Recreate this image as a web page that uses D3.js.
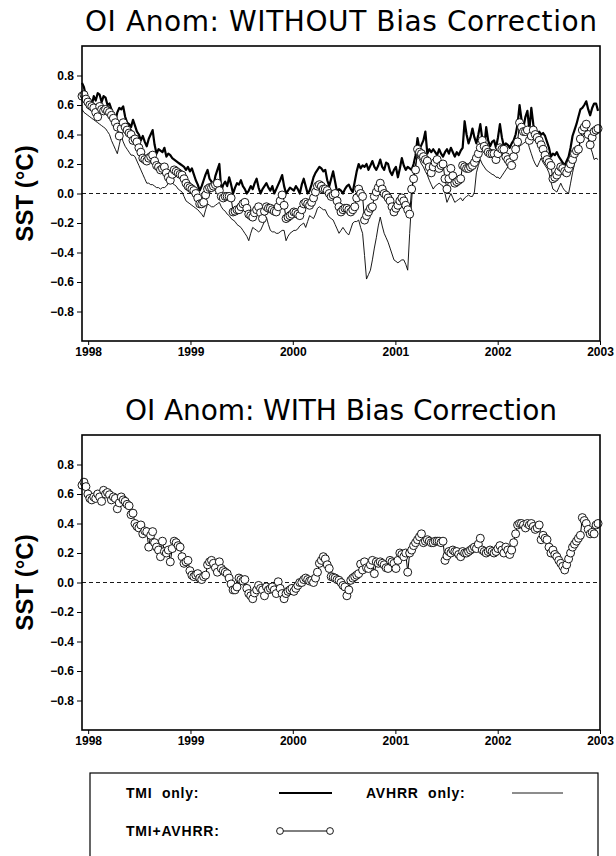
<!DOCTYPE html>
<html>
<head>
<meta charset="utf-8">
<script src="https://d3js.org/d3.v7.min.js"></script>
<style>
  * { margin:0; padding:0; }
  body { background:#fff; width:616px; height:856px; overflow:hidden; }
  svg { display:block; }
  .axis text { font-family:"Liberation Sans",Arial,sans-serif; font-weight:bold; font-size:12px; fill:#000; }
  .axis line { stroke:#000; stroke-width:1; }
  .title { font-family:"DejaVu Sans",sans-serif; font-size:28px; fill:#000; }
  .ylab { font-family:"Liberation Sans",Arial,sans-serif; font-weight:bold; font-size:24px; fill:#000; }
  .leg { font-family:"Liberation Sans",Arial,sans-serif; font-weight:bold; font-size:14px; letter-spacing:0.8px; fill:#000; white-space:pre; }
</style>
</head>
<body>
<svg id="chart" width="616" height="856"></svg>
<script>
// ── Data: weekly SST anomalies (°C), first week 10 Dec 1997 ─────────────────
var START_DATE = Date.UTC(1997, 11, 10);
var END_DATE   = Date.UTC(2003, 0, 1);

var yearTicks = [1998, 1999, 2000, 2001, 2002, 2003];
var sstTicks  = [-0.8, -0.6, -0.4, -0.2, 0.0, 0.2, 0.4, 0.6, 0.8];

var panelTitles = ["OI Anom: WITHOUT Bias Correction", "OI Anom: WITH Bias Correction"];
var legendLabels = ["TMI  only:", "AVHRR  only:", "TMI+AVHRR:"];

var tmiOnly = [
  0.75, 0.72, 0.66, 0.62, 0.64, 0.60, 0.66, 0.63, 0.68, 0.67,
  0.62, 0.66, 0.65, 0.60, 0.61, 0.57, 0.52, 0.49, 0.55, 0.58,
  0.57, 0.59, 0.52, 0.48, 0.47, 0.45, 0.50, 0.46, 0.42, 0.40,
  0.36, 0.39, 0.35, 0.32, 0.37, 0.40, 0.43, 0.33, 0.27, 0.30,
  0.29, 0.28, 0.31, 0.25, 0.27, 0.26, 0.24, 0.23, 0.22, 0.21,
  0.20, 0.19, 0.18, 0.16, 0.18, 0.15, 0.17, 0.13, 0.09, 0.06,
  0.02, 0.05, 0.09, 0.13, 0.16, 0.10, 0.08, 0.05, 0.12, 0.16,
  0.20, 0.02, 0.06, 0.08, 0.05, 0.11, 0.06, 0.00, 0.04, 0.07,
  0.06, 0.09, 0.05, 0.03, 0.00, 0.02, 0.05, 0.03, 0.07, 0.10,
  0.04, 0.00, 0.03, 0.05, 0.07, 0.04, 0.02, 0.05, 0.00, 0.03,
  0.06, 0.09, 0.125, 0.05, 0.00, 0.02, 0.04, 0.03, 0.02, 0.05,
  0.03, 0.00, 0.06, 0.10, 0.05, 0.00, 0.02, 0.06, 0.11, 0.14,
  0.16, 0.18, 0.17, 0.15, 0.16, 0.09, 0.05, 0.10, 0.15, 0.08,
  0.01, 0.03, 0.02, 0.00, 0.03, 0.05, 0.06, 0.03, 0.01, 0.08,
  0.15, 0.20, 0.17, 0.19, 0.18, 0.20, 0.16, 0.19, 0.22, 0.18,
  0.16, 0.19, 0.23, 0.18, 0.16, 0.21, 0.20, 0.15, 0.125, 0.16,
  0.18, 0.11, 0.17, 0.24, 0.19, 0.16, 0.18, 0.17, 0.16, 0.20,
  0.26, 0.375, 0.30, 0.33, 0.36, 0.42, 0.27, 0.30, 0.28, 0.30,
  0.28, 0.26, 0.30, 0.27, 0.25, 0.28, 0.30, 0.27, 0.31, 0.28,
  0.25, 0.28, 0.26, 0.29, 0.31, 0.49, 0.40, 0.34, 0.38, 0.44,
  0.38, 0.34, 0.40, 0.47, 0.37, 0.31, 0.45, 0.36, 0.32, 0.35,
  0.36, 0.31, 0.38, 0.47, 0.38, 0.32, 0.34, 0.33, 0.31, 0.34,
  0.36, 0.40, 0.47, 0.60, 0.50, 0.45, 0.52, 0.56, 0.43, 0.58,
  0.47, 0.40, 0.41, 0.42, 0.40, 0.41, 0.39, 0.35, 0.31, 0.25,
  0.27, 0.26, 0.28, 0.25, 0.23, 0.21, 0.19, 0.22, 0.25, 0.31,
  0.39, 0.43, 0.47, 0.52, 0.57, 0.58, 0.60, 0.625, 0.57, 0.53,
  0.58, 0.61, 0.61, 0.56
];

var avhrrOnly = [
  0.57, 0.55, 0.54, 0.53, 0.52, 0.51, 0.50, 0.49, 0.48, 0.47,
  0.46, 0.45, 0.44, 0.42, 0.40, 0.36, 0.33, 0.30, 0.27, 0.33,
  0.39, 0.35, 0.32, 0.30, 0.28, 0.26, 0.26, 0.25, 0.22, 0.19,
  0.16, 0.13, 0.10, 0.07, 0.07, 0.06, 0.06, 0.05, 0.04, 0.04,
  0.03, 0.04, 0.04, 0.05, 0.07, 0.09, 0.07, 0.06, 0.05, 0.03,
  0.02, 0.01, -0.02, -0.05, -0.06, -0.07, -0.08, -0.09, -0.10, -0.11,
  -0.125, -0.14, -0.16, -0.11, -0.07, -0.08, -0.09, -0.09, -0.08, -0.07,
  -0.06, -0.09, -0.11, -0.12, -0.14, -0.15, -0.17, -0.18, -0.19, -0.21,
  -0.22, -0.23, -0.25, -0.27, -0.29, -0.32, -0.27, -0.23, -0.24, -0.25,
  -0.26, -0.25, -0.22, -0.19, -0.16, -0.21, -0.25, -0.26, -0.26, -0.27,
  -0.27, -0.26, -0.25, -0.25, -0.32, -0.29, -0.27, -0.26, -0.25, -0.25,
  -0.24, -0.22, -0.21, -0.20, -0.23, -0.19, -0.15, -0.16, -0.17, -0.14,
  -0.10, -0.09, -0.10, -0.11, -0.11, -0.14, -0.16, -0.17, -0.18, -0.21,
  -0.24, -0.27, -0.25, -0.23, -0.25, -0.27, -0.28, -0.24, -0.20, -0.19,
  -0.19, -0.18, -0.23, -0.27, -0.42, -0.58, -0.55, -0.52, -0.45, -0.37,
  -0.30, -0.22, -0.16, -0.22, -0.27, -0.30, -0.33, -0.37, -0.41, -0.45,
  -0.46, -0.47, -0.46, -0.45, -0.45, -0.48, -0.52, -0.27, -0.05, 0.14,
  0.20, 0.25, 0.23, 0.20, 0.18, 0.15, 0.125, 0.09, 0.06, 0.03,
  0.05, 0.06, 0.07, 0.06, 0.05, 0.00, -0.06, -0.03, 0.00, -0.03,
  -0.06, -0.05, -0.04, -0.03, -0.05, -0.03, -0.02, -0.01, -0.02, -0.02,
  0.01, 0.14, 0.19, 0.23, 0.20, 0.18, 0.16, 0.15, 0.14, 0.13,
  0.125, 0.11, 0.11, 0.10, 0.12, 0.14, 0.16, 0.18, 0.19, 0.21,
  0.23, 0.26, 0.29, 0.32, 0.33, 0.34, 0.35, 0.36, 0.31, 0.27,
  0.23, 0.20, 0.18, 0.21, 0.24, 0.21, 0.19, 0.17, 0.14, 0.08,
  0.03, 0.02, 0.01, 0.04, 0.07, 0.04, 0.02, 0.01, 0.00, 0.07,
  0.14, 0.20, 0.25, 0.30, 0.35, 0.39, 0.41, 0.42, 0.37, 0.32,
  0.28, 0.23, 0.24, 0.23
];

var tmiAvhrr = [
  0.66, 0.67, 0.64, 0.62, 0.60, 0.59, 0.58, 0.55, 0.52, 0.59,
  0.57, 0.56, 0.57, 0.56, 0.55, 0.53, 0.51, 0.48, 0.45, 0.39,
  0.44, 0.48, 0.45, 0.43, 0.41, 0.40, 0.36, 0.37, 0.35, 0.31,
  0.28, 0.24, 0.23, 0.22, 0.24, 0.25, 0.26, 0.22, 0.19, 0.18,
  0.16, 0.17, 0.18, 0.14, 0.11, 0.09, 0.13, 0.16, 0.15, 0.14,
  0.13, 0.125, 0.10, 0.07, 0.05, 0.04, 0.03, 0.02, 0.00, -0.03,
  -0.07, -0.07, -0.06, -0.01, 0.03, 0.04, 0.04, 0.05, 0.06, 0.07,
  0.02, -0.02, -0.03, -0.02, -0.02, -0.02, -0.03, -0.125, -0.12, -0.11,
  -0.11, -0.09, -0.07, -0.06, -0.10, -0.14, -0.15, -0.16, -0.13, -0.11,
  -0.09, -0.13, -0.17, -0.12, -0.09, -0.10, -0.10, -0.11, -0.12, -0.125,
  -0.09, -0.05, -0.01, -0.08, -0.17, -0.16, -0.15, -0.14, -0.125, -0.13,
  -0.14, -0.15, -0.11, -0.07, -0.06, -0.07, -0.08, -0.06, -0.03, 0.01,
  0.05, 0.06, 0.05, 0.03, 0.03, 0.02, 0.00, -0.02, -0.01, 0.00,
  -0.05, -0.09, -0.125, -0.11, -0.10, -0.10, -0.11, -0.125, -0.11, -0.09,
  -0.03, 0.03, 0.00, -0.02, -0.18, -0.15, -0.125, -0.10, -0.09, -0.02,
  0.01, 0.04, 0.07, 0.03, 0.00, -0.01, -0.03, -0.05, -0.09, -0.125,
  -0.10, -0.08, -0.05, -0.03, -0.05, -0.08, -0.11, -0.14, 0.03, 0.10,
  0.16, 0.30, 0.28, 0.27, 0.25, 0.23, 0.22, 0.18, 0.14, 0.18,
  0.21, 0.23, 0.17, 0.19, 0.20, 0.10, 0.03, 0.10, 0.17, 0.12,
  0.07, 0.08, 0.09, 0.10, 0.19, 0.18, 0.17, 0.17, 0.18, 0.19,
  0.21, 0.24, 0.27, 0.31, 0.36, 0.32, 0.30, 0.28, 0.27, 0.27,
  0.27, 0.23, 0.27, 0.31, 0.30, 0.30, 0.25, 0.23, 0.21, 0.19,
  0.25, 0.30, 0.35, 0.48, 0.45, 0.42, 0.42, 0.43, 0.36, 0.39,
  0.43, 0.40, 0.38, 0.36, 0.33, 0.30, 0.26, 0.23, 0.21, 0.19,
  0.10, 0.11, 0.125, 0.15, 0.18, 0.17, 0.15, 0.14, 0.17, 0.20,
  0.23, 0.27, 0.29, 0.30, 0.37, 0.43, 0.45, 0.47, 0.40, 0.33,
  0.38, 0.42, 0.43, 0.44
];

var tmiAvhrrCorrected = [
  0.66, 0.68, 0.65, 0.60, 0.57, 0.56, 0.58, 0.57, 0.60, 0.58,
  0.55, 0.625, 0.60, 0.61, 0.595, 0.56, 0.58, 0.57, 0.50, 0.54,
  0.58, 0.56, 0.55, 0.53, 0.52, 0.46, 0.47, 0.40, 0.38, 0.37,
  0.39, 0.33, 0.35, 0.345, 0.24, 0.32, 0.345, 0.27, 0.24, 0.22,
  0.175, 0.28, 0.21, 0.20, 0.22, 0.14, 0.23, 0.28, 0.27, 0.25,
  0.24, 0.175, 0.13, 0.14, 0.15, 0.08, 0.05, 0.04, 0.05, 0.06,
  0.03, 0.02, 0.04, 0.05, 0.12, 0.14, 0.15, 0.13, 0.10, 0.07,
  0.14, 0.095, 0.08, 0.07, 0.06, 0.03, -0.01, -0.05, -0.05, -0.03,
  0.03, 0.02, 0.01, 0.02, -0.04, -0.075, -0.09, -0.11, -0.07, -0.05,
  -0.02, -0.04, -0.05, -0.09, -0.03, -0.05, -0.04, -0.03, -0.05, -0.075,
  0.005, -0.04, -0.075, -0.11, -0.075, -0.06, -0.05, -0.04, -0.06, -0.04,
  -0.02, 0.00, 0.00, 0.02, 0.03, 0.02, 0.01, 0.015, 0.00, 0.03,
  0.07, 0.13, 0.15, 0.175, 0.16, 0.12, 0.095, 0.04, 0.035, 0.03,
  0.02, 0.015, 0.00, -0.02, -0.03, -0.09, -0.05, 0.015, 0.03, 0.04,
  0.05, 0.06, 0.125, 0.085, 0.14, 0.10, 0.095, 0.12, 0.15, 0.06,
  0.14, 0.13, 0.14, 0.13, 0.12, 0.10, 0.095, 0.15, 0.14, 0.13,
  0.095, 0.15, 0.20, 0.19, 0.175, 0.20, 0.07, 0.20, 0.22, 0.25,
  0.27, 0.29, 0.31, 0.33, 0.27, 0.28, 0.29, 0.28, 0.27, 0.27,
  0.28, 0.28, 0.28, 0.27, 0.28, 0.15, 0.18, 0.21, 0.20, 0.22,
  0.21, 0.21, 0.19, 0.175, 0.21, 0.20, 0.20, 0.21, 0.22, 0.23,
  0.24, 0.23, 0.26, 0.30, 0.22, 0.21, 0.20, 0.21, 0.22, 0.21,
  0.20, 0.21, 0.23, 0.25, 0.22, 0.20, 0.24, 0.22, 0.19, 0.22,
  0.27, 0.33, 0.39, 0.40, 0.40, 0.39, 0.37, 0.40, 0.39, 0.40,
  0.38, 0.36, 0.37, 0.39, 0.29, 0.32, 0.30, 0.29, 0.24, 0.20,
  0.22, 0.19, 0.175, 0.15, 0.13, 0.11, 0.085, 0.12, 0.16, 0.20,
  0.24, 0.26, 0.28, 0.30, 0.32, 0.44, 0.42, 0.40, 0.36, 0.33,
  0.34, 0.33, 0.39, 0.40
];

// ── Layout ───────────────────────────────────────────────────────────────────
var LEFT = 82, RIGHT = 600;
var panels = [
  { top: 46,  bottom: 341, titleY: 31,  series: "raw" },
  { top: 435, bottom: 730, titleY: 420, series: "corrected" }
];
var titleLengths = [512, 432];
var WEEK_MS = 7 * 864e5;
var R = 4;

var svg = d3.select("#chart");

var x = d3.scaleUtc()
  .domain([new Date(START_DATE), new Date(END_DATE)])
  .range([LEFT, RIGHT]);

function weekDate(i) { return new Date(START_DATE + i * WEEK_MS); }

// ── One panel ────────────────────────────────────────────────────────────────
function drawPanel(p, idx) {
  var y = d3.scaleLinear().domain([-1, 1]).range([p.bottom, p.top]);
  var g = svg.append("g");

  var line = d3.line()
    .x(function(d, i) { return x(weekDate(i)); })
    .y(function(d) { return y(d); });

  // title
  g.append("text").attr("class", "title")
    .attr("x", (LEFT + RIGHT) / 2).attr("y", p.titleY)
    .attr("text-anchor", "middle")
    .attr("textLength", titleLengths[idx]).attr("lengthAdjust", "spacing")
    .text(panelTitles[idx]);

  // y label
  var yc = (p.top + p.bottom) / 2;
  g.append("text").attr("class", "ylab")
    .attr("transform", "translate(33," + yc + ") rotate(-90)")
    .attr("text-anchor", "middle")
    .text("SST (\u00b0C)");

  // zero line
  g.append("line")
    .attr("x1", LEFT).attr("x2", RIGHT)
    .attr("y1", y(0)).attr("y2", y(0))
    .attr("stroke", "#000").attr("stroke-width", 0.9)
    .attr("stroke-dasharray", "4,3");

  if (p.series === "raw") {
    g.append("path").datum(avhrrOnly)
      .attr("d", line).attr("fill", "none")
      .attr("stroke", "#000").attr("stroke-width", 0.9).attr("stroke-linejoin", "round");
    g.append("path").datum(tmiOnly)
      .attr("d", line).attr("fill", "none")
      .attr("stroke", "#000").attr("stroke-width", 2.2).attr("stroke-linejoin", "round");
  }

  var blend = p.series === "raw" ? tmiAvhrr : tmiAvhrrCorrected;
  g.append("path").datum(blend)
    .attr("d", line).attr("fill", "none")
    .attr("stroke", "#000").attr("stroke-width", 1);
  g.selectAll("circle.pt").data(blend).join("circle")
    .attr("class", "pt")
    .attr("cx", function(d, i) { return x(weekDate(i)); })
    .attr("cy", function(d) { return y(d); })
    .attr("r", R)
    .attr("fill", "#fff").attr("stroke", "#000").attr("stroke-width", 0.9);

  // axes
  var yAxis = d3.axisLeft(y)
    .tickValues(sstTicks)
    .tickFormat(d3.format(".1f"))
    .tickSize(5).tickSizeOuter(0).tickPadding(3);
  g.append("g").attr("class", "axis")
    .attr("transform", "translate(" + LEFT + ",0)")
    .call(yAxis)
    .call(function(a) { a.select(".domain").remove(); });

  var xAxis = d3.axisBottom(x)
    .tickValues(yearTicks.map(function(yr) { return new Date(Date.UTC(yr, 0, 1)); }))
    .tickFormat(d3.utcFormat("%Y"))
    .tickSize(4).tickSizeOuter(0).tickPadding(2);
  g.append("g").attr("class", "axis")
    .attr("transform", "translate(0," + p.bottom + ")")
    .call(xAxis)
    .call(function(a) { a.select(".domain").remove(); });

  // frame
  g.append("rect")
    .attr("x", LEFT).attr("y", p.top)
    .attr("width", RIGHT - LEFT).attr("height", p.bottom - p.top)
    .attr("fill", "none").attr("stroke", "#000").attr("stroke-width", 1.6);
}

panels.forEach(drawPanel);

// ── Legend ───────────────────────────────────────────────────────────────────
var leg = svg.append("g");
leg.append("rect")
  .attr("x", 90).attr("y", 773).attr("width", 508).attr("height", 110)
  .attr("fill", "none").attr("stroke", "#000").attr("stroke-width", 1.2);

var row1 = 793, row2 = 831;
leg.append("text").attr("class", "leg").attr("x", 126).attr("y", row1 + 5).text(legendLabels[0]);
leg.append("line").attr("x1", 279).attr("x2", 332).attr("y1", row1).attr("y2", row1)
  .attr("stroke", "#000").attr("stroke-width", 2.2);
leg.append("text").attr("class", "leg").attr("x", 366).attr("y", row1 + 5).text(legendLabels[1]);
leg.append("line").attr("x1", 512).attr("x2", 563).attr("y1", row1).attr("y2", row1)
  .attr("stroke", "#000").attr("stroke-width", 0.9);
leg.append("text").attr("class", "leg").attr("x", 126).attr("y", row2 + 5).text(legendLabels[2]);
leg.append("line").attr("x1", 280).attr("x2", 330).attr("y1", row2).attr("y2", row2)
  .attr("stroke", "#000").attr("stroke-width", 1);
leg.selectAll("circle").data([280, 330]).join("circle")
  .attr("cx", function(d) { return d; }).attr("cy", row2).attr("r", 3.4)
  .attr("fill", "#fff").attr("stroke", "#000").attr("stroke-width", 0.9);
</script>
</body>
</html>
